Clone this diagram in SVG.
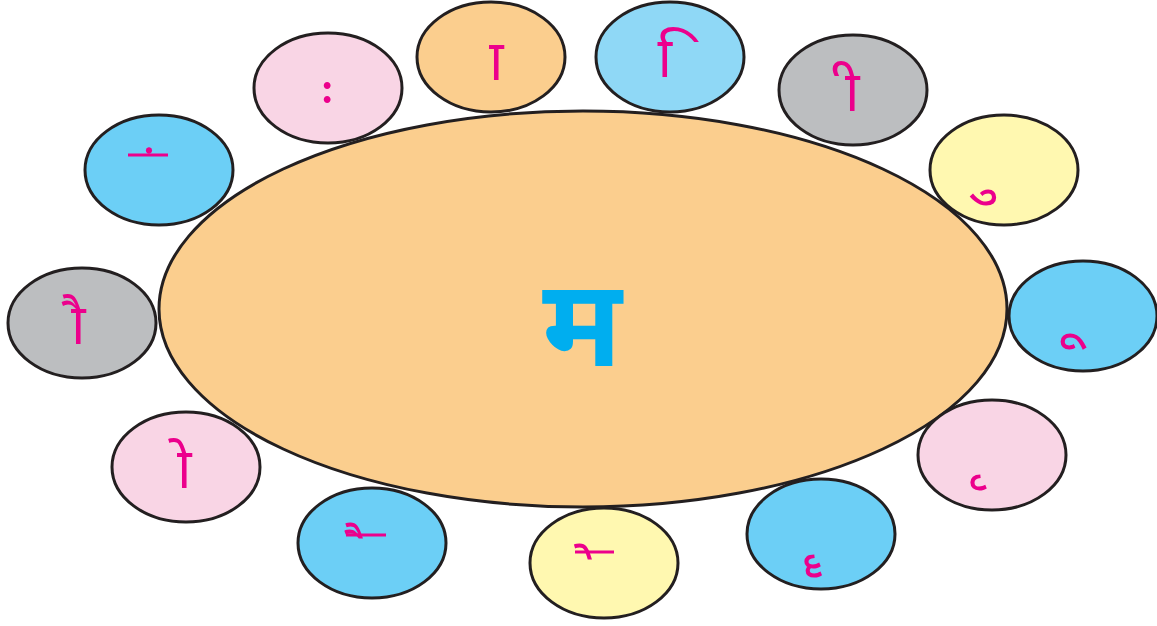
<svg xmlns="http://www.w3.org/2000/svg" width="1157" height="626" viewBox="0 0 1157 626">
<defs>
<style>
.n{stroke:#231F20;stroke-width:3}
.blue{fill:#6CCFF6}.lblue{fill:#8FD8F6}.pink{fill:#F9D5E5}.orange{fill:#FBCE8E}.grey{fill:#BCBEC0}.yellow{fill:#FFF8B0}
.m{font-family:"Noto Sans Devanagari","Noto Sans","Noto Serif Devanagari",sans-serif;fill:#EC008C;font-size:56px;text-anchor:middle}
.bar{stroke:#EC008C;stroke-width:3}
.big{font-family:"Noto Sans Devanagari","Noto Sans",sans-serif;fill:#00AEEF;font-size:122px;font-weight:bold;text-anchor:middle}
</style>
<clipPath id="vclip"><rect x="300" y="77" width="70" height="35"/></clipPath>
</defs>
<g id="center"><ellipse class="n orange" cx="583" cy="309" rx="424" ry="198"/><text class="big" x="582" y="366">म</text></g>
<g id="n1"><ellipse class="n blue" cx="159" cy="170" rx="74" ry="55"/><line class="bar" x1="128" y1="155" x2="168" y2="155"/><text class="m" x="149" y="194">&#160;ं</text></g>
<g id="n2"><ellipse class="n pink" cx="328" cy="88" rx="74" ry="55"/><text class="m" x="320" y="107" clip-path="url(#vclip)">&#160;ः</text></g>
<g id="n3"><ellipse class="n orange" cx="491" cy="57" rx="74" ry="55"/><text class="m" x="489" y="80">&#160;ा</text></g>
<g id="n4"><ellipse class="n lblue" cx="670" cy="57" rx="74" ry="55"/><text class="m" x="672" y="77">&#160;ि</text></g>
<g id="n5"><ellipse class="n grey" cx="853" cy="90" rx="74" ry="55"/><text class="m" x="845" y="111">&#160;ी</text></g>
<g id="n6"><ellipse class="n yellow" cx="1004" cy="170" rx="74" ry="55"/><text class="m" x="988" y="190">&#160;ु</text></g>
<g id="n7"><ellipse class="n blue" cx="1083" cy="316" rx="74" ry="55"/><text class="m" x="1072" y="334">&#160;ू</text></g>
<g id="n8"><ellipse class="n pink" cx="992" cy="455" rx="74" ry="55"/><text class="m" x="978" y="475">&#160;ृ</text></g>
<g id="n9"><ellipse class="n blue" cx="821" cy="534" rx="74" ry="55"/><text class="m" x="812" y="555">&#160;ॄ</text></g>
<g id="n10"><ellipse class="n yellow" cx="604" cy="563" rx="74" ry="55"/><line class="bar" x1="575" y1="552" x2="614" y2="552"/><text class="m" x="590" y="594">&#160;े</text></g>
<g id="n11"><ellipse class="n blue" cx="372" cy="543" rx="74" ry="55"/><line class="bar" x1="346" y1="535" x2="386" y2="535"/><text class="m" x="361" y="573">&#160;ै</text></g>
<g id="n12"><ellipse class="n pink" cx="186" cy="467" rx="74" ry="55"/><text class="m" x="177" y="488">&#160;ो</text></g>
<g id="n13"><ellipse class="n grey" cx="82" cy="323" rx="74" ry="55"/><text class="m" x="71" y="344">&#160;ौ</text></g>
</svg>
